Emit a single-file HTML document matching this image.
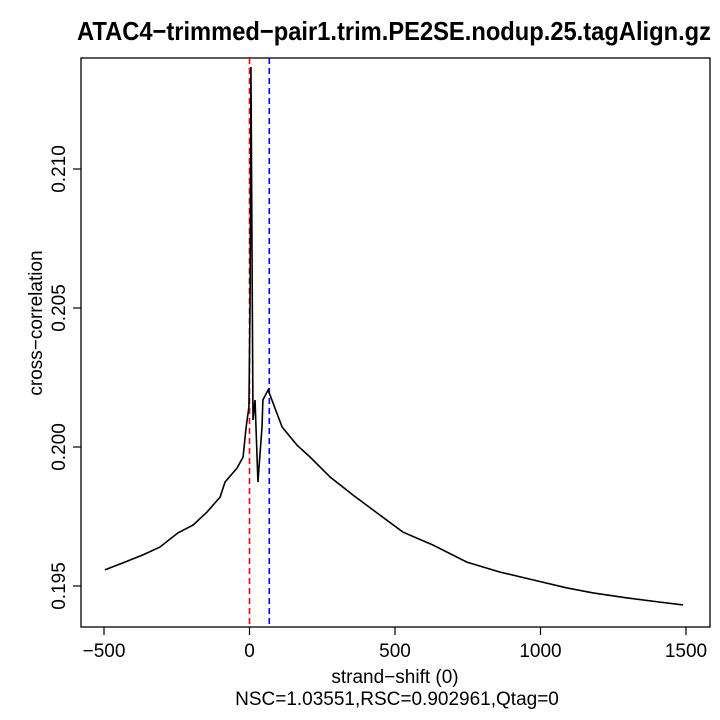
<!DOCTYPE html>
<html><head><meta charset="utf-8"><style>
body{margin:0;background:#fff}
svg{display:block;font-family:"Liberation Sans",Arial,sans-serif}
</style></head><body>
<svg id="chart" width="720" height="720">
<text x="394" y="40" text-anchor="middle" font-size="26" font-weight="bold" textLength="634" lengthAdjust="spacingAndGlyphs">ATAC4−trimmed−pair1.trim.PE2SE.nodup.25.tagAlign.gz</text>
<rect x="81" y="58" width="629" height="569" fill="none" stroke="#000" stroke-width="1.3"/>
<g id="xt"></g>
<g id="yt"></g>
<text x="395" y="683" text-anchor="middle" font-size="19">strand−shift (0)</text>
<text x="397" y="705" text-anchor="middle" font-size="19">NSC=1.03551,RSC=0.902961,Qtag=0</text>
<text transform="translate(42,323) rotate(-90)" text-anchor="middle" font-size="19">cross−correlation</text>
<g id="marks"></g>
</svg>
<script>
const shifts=[-497,-435,-366,-308,-246,-194,-146,-101,-84,-43,-22,-12,-2,2,5,12,19,29,43,46,64,112,163,208,277,356,438,527,631,747,861,974,1091,1181,1298,1411,1490];
const values=[0.19558,0.19583,0.19612,0.19640,0.19691,0.19719,0.19766,0.19820,0.19874,0.19924,0.19964,0.20068,0.20144,0.20529,0.21367,0.20097,0.20169,0.19874,0.20072,0.20169,0.20205,0.20072,0.20007,0.19964,0.19892,0.19827,0.19763,0.19694,0.19647,0.19586,0.19550,0.19522,0.19493,0.19475,0.19457,0.19442,0.19432];
const xTicks=[-500,0,500,1000,1500];
const yTicks=[0.195,0.200,0.205,0.210];
const redLine=0, blueLine=68;
const NS="http://www.w3.org/2000/svg";
const X=v=>249.5+v*145.5/500;
const Y=v=>586-(v-0.195)*139/0.005;
function mk(t,a,p){const e=document.createElementNS(NS,t);for(const k in a)e.setAttribute(k,a[k]);p.appendChild(e);return e;}
const xt=document.getElementById('xt'),yt=document.getElementById('yt'),mg=document.getElementById('marks');
xTicks.forEach(v=>{
  const l=mk('line',{x1:X(v),x2:X(v),y1:627,y2:635,stroke:'#000','stroke-width':1.2},xt);
  
  
  const t=mk('text',{x:X(v),y:657,'text-anchor':'middle','font-size':19},xt);
  t.textContent=v<0?'−'+(-v):String(v);
  
  
});
yTicks.forEach(v=>{
  const l=mk('line',{x1:73,x2:81,y1:Y(v),y2:Y(v),stroke:'#000','stroke-width':1.2},yt);
  
  
  const t=mk('text',{transform:`translate(65,${Y(v)}) rotate(-90)`,'text-anchor':'middle','font-size':19},yt);
  t.textContent=v.toFixed(3);
  
  
});
const r=mk('line',{x1:X(redLine),x2:X(redLine),y1:58,y2:627,stroke:'#ff0000','stroke-width':1.6,'stroke-dasharray':'6,4'},mg);


const b=mk('line',{x1:X(blueLine),x2:X(blueLine),y1:58,y2:627,stroke:'#0000ff','stroke-width':1.6,'stroke-dasharray':'6,4'},mg);


const p=mk('polyline',{points:shifts.map((s,i)=>X(s)+','+Y(values[i])).join(' '),fill:'none',stroke:'#000','stroke-width':1.6},mg);


</script>
</body></html>
